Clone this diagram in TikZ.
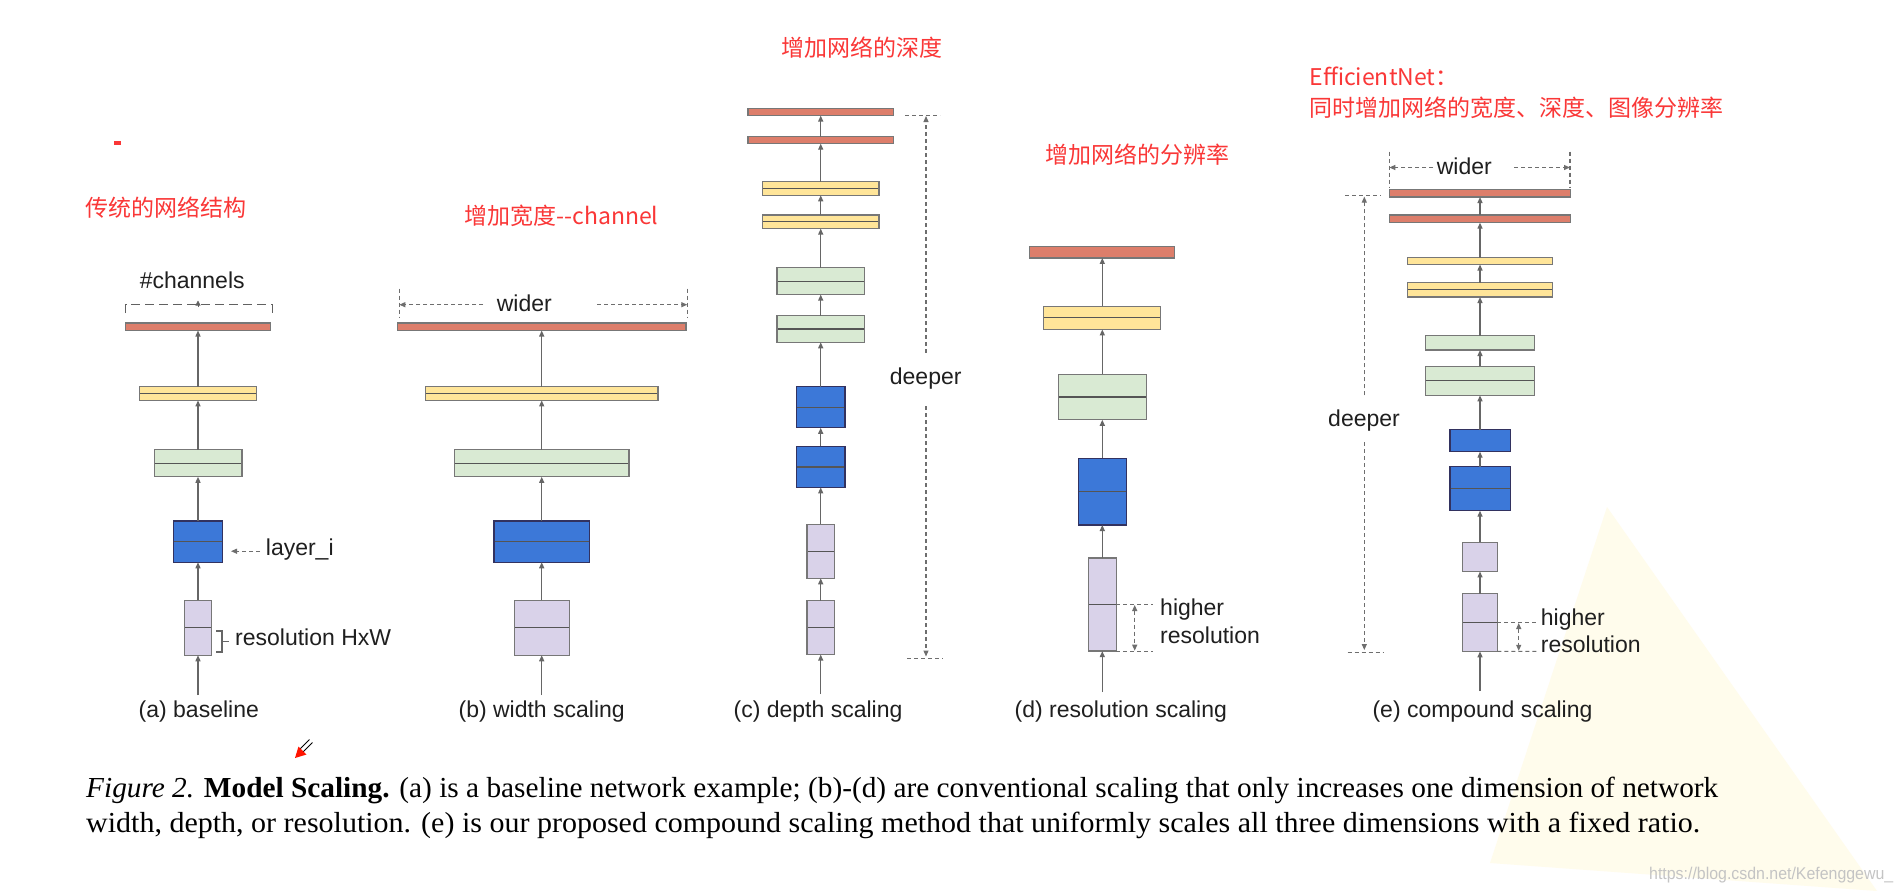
\documentclass[tikz,border=0pt]{standalone}
\usepackage{fontspec}
\usepackage{graphicx}
\setmainfont{Liberation Serif}
\newfontfamily\labfont{Liberation Sans}
\newfontfamily\cjkfont{Noto Sans CJK SC}
\usetikzlibrary{arrows.meta}
\definecolor{cred}{HTML}{DD7E6B}
\definecolor{cyel}{HTML}{FFE599}
\definecolor{cgrn}{HTML}{D9EAD3}
\definecolor{cblu}{HTML}{3C78D8}
\definecolor{cpur}{HTML}{D9D2E9}
\definecolor{bline}{HTML}{777777}
\definecolor{mline}{HTML}{555555}
\definecolor{aline}{HTML}{666666}
\definecolor{dline}{HTML}{6E6E6E}
\definecolor{redtxt}{RGB}{250,55,55}
\definecolor{wmgray}{HTML}{C4C4C4}
\definecolor{trifill}{RGB}{255,252,236}
\tikzset{
  box/.style={draw=bline, line width=1.3pt, inner sep=0pt, outer sep=0pt},
  rbox/.style={box, fill=cred},
  ybox/.style={box, fill=cyel},
  gbox/.style={box, fill=cgrn},
  bbox/.style={box, fill=cblu, draw=bline!70!blue!60!black},
  pbox/.style={box, fill=cpur},
  split/.style={path picture={\draw[mline, line width=1.3pt] (path picture bounding box.west) -- (path picture bounding box.east);}},
  conn/.style={draw=aline, line width=1.3pt, -{Triangle[length=6pt,width=5pt]}},
  dim/.style={draw=dline, line width=1.1pt, dash pattern=on 4pt off 3pt},
  dimtip/.style={dim, -{Triangle[length=6pt,width=5pt]}},
  dimboth/.style={dim, {Triangle[length=6pt,width=5pt]}-{Triangle[length=6pt,width=5pt]}},
  brk/.style={draw=black!62, line width=1.5pt, dash pattern=on 9pt off 5pt},
  lab/.style={font=\labfont\fontsize{23}{27}\selectfont, inner sep=0pt, text=black!88},
  cjk/.style={font=\cjkfont\fontsize{23}{27}\selectfont, inner sep=0pt, text=redtxt, anchor=west},
}
\begin{document}
\begin{tikzpicture}[x=1pt, y=-1pt]
\useasboundingbox (0,0) rectangle (1902,891);
\fill[white] (0,0) rectangle (1902,891);
% faint watermark triangle
\fill[trifill] (1607,507) -- (1490,863) -- (1877,891) -- cycle;

% ---------------- (a) baseline ----------------
\node[rbox, minimum width=145.3, minimum height=7.6] (ra) at (198,326.7) {};
\node[ybox, split, minimum width=116.7, minimum height=13.8] (ya) at (198,393.5) {};
\node[gbox, split, minimum width=87.7, minimum height=27.2] (ga) at (198,463.2) {};
\node[bbox, split, minimum width=48.7, minimum height=41.3] (ba) at (198,541.6) {};
\node[pbox, split, minimum width=27.3, minimum height=55.1] (pa) at (198,627.7) {};
\coordinate (a0) at (198,695);
\draw[conn] (a0) -- (pa.south);
\draw[conn] (pa.north) -- (ba.south);
\draw[conn] (ba.north) -- (ga.south);
\draw[conn] (ga.north) -- (ya.south);
\draw[conn] (ya.north) -- (ra.south);
\node[lab, anchor=base] (cha) at (192.2,288.5) {\#channels};
\coordinate (chLb) at (125.7,313); \coordinate (chL) at (125.7,304.7);
\coordinate (chR) at (272.3,304.7); \coordinate (chRb) at (272.3,313);
\draw[brk] (chLb) -- (chL) -- (chR) -- (chRb);
\coordinate (chT0) at (198,307); \coordinate (chT1) at (198,300.5);
\draw[draw=black!62, line width=0.8pt, -{Triangle[length=5pt,width=5pt]}] (chT0) -- (chT1);
\coordinate (lyA) at (260,551.2); \coordinate (lyB) at (231,551.2);
\draw[dimtip] (lyA) -- (lyB);
\node[lab, anchor=base west] (lyr) at (265.7,555) {layer\_i};
\draw[aline, line width=1.3pt] (216,631) -- (222,631) -- (222,652) -- (216,652);
\draw[aline, line width=1.3pt] (222,641.5) -- (228.5,641.5);
\node[lab, anchor=base west] (resa) at (235,645) {resolution HxW};
\node[lab, anchor=base] (capa) at (198.8,717) {(a) baseline};
\node[cjk] (cna) at (85,207.4) {传统的网络结构};
\fill[redtxt] (114,141) rectangle (121,145);

% ---------------- (b) width scaling ----------------
\node[rbox, minimum width=288.4, minimum height=7.6] (rb) at (541.7,326.7) {};
\node[ybox, split, minimum width=232.4, minimum height=13.8] (yb) at (541.7,393.5) {};
\node[gbox, split, minimum width=174.4, minimum height=27.2] (gb) at (541.7,463.2) {};
\node[bbox, split, minimum width=95.6, minimum height=41.3] (bb) at (541.7,541.6) {};
\node[pbox, split, minimum width=55, minimum height=55.1] (pb) at (541.7,627.7) {};
\coordinate (b0) at (541.7,695);
\draw[conn] (b0) -- (pb.south);
\draw[conn] (pb.north) -- (bb.south);
\draw[conn] (bb.north) -- (gb.south);
\draw[conn] (gb.north) -- (yb.south);
\draw[conn] (yb.north) -- (rb.south);
\draw[dim] (399.3,288.5) -- (399.3,317.7);
\draw[dim] (687.3,288.5) -- (687.3,317.7);
\coordinate (wbL0) at (483,304.7); \coordinate (wbL1) at (399.3,304.7);
\coordinate (wbR0) at (597,304.7); \coordinate (wbR1) at (687.3,304.7);
\draw[dimtip] (wbL0) -- (wbL1);
\draw[dimtip] (wbR0) -- (wbR1);
\node[lab, anchor=base] (wdb) at (524.3,311) {wider};
\node[lab, anchor=base] (capb) at (541.7,717) {(b) width scaling};
\node[cjk] (cnb) at (464.3,216.2) {增加宽度--channel};

% ---------------- (c) depth scaling ----------------
\node[rbox, minimum width=145.7, minimum height=7.1] (rc1) at (820.7,112) {};
\node[rbox, minimum width=145.7, minimum height=7.1] (rc2) at (820.7,140.1) {};
\node[ybox, split, minimum width=116.7, minimum height=13.6] (yc1) at (820.7,188.5) {};
\node[ybox, split, minimum width=116.7, minimum height=13.6] (yc2) at (820.7,221.8) {};
\node[gbox, split, minimum width=87.6, minimum height=26.8] (gc1) at (820.7,281.2) {};
\node[gbox, split, minimum width=87.6, minimum height=26.8] (gc2) at (820.7,328.9) {};
\node[bbox, split, minimum width=48.4, minimum height=41] (bc1) at (820.7,407.3) {};
\node[bbox, split, minimum width=48.4, minimum height=41] (bc2) at (820.7,466.9) {};
\node[pbox, split, minimum width=27.6, minimum height=54] (pc1) at (820.7,551.3) {};
\node[pbox, split, minimum width=27.6, minimum height=54] (pc2) at (820.7,627.6) {};
\coordinate (c0) at (820.7,694);
\draw[conn] (c0) -- (pc2.south);
\draw[conn] (pc2.north) -- (pc1.south);
\draw[conn] (pc1.north) -- (bc2.south);
\draw[conn] (bc2.north) -- (bc1.south);
\draw[conn] (bc1.north) -- (gc2.south);
\draw[conn] (gc2.north) -- (gc1.south);
\draw[conn] (gc1.north) -- (yc2.south);
\draw[conn] (yc2.north) -- (yc1.south);
\draw[conn] (yc1.north) -- (rc2.south);
\draw[conn] (rc2.north) -- (rc1.south);
\draw[dim] (905,115.1) -- (940,115.1);
\draw[dim] (907.3,658.4) -- (942.7,658.4);
\coordinate (dcU0) at (926,352.6); \coordinate (dcU1) at (926,116);
\coordinate (dcD0) at (926,406.2); \coordinate (dcD1) at (926,656.5);
\draw[dimtip] (dcU0) -- (dcU1);
\draw[dimtip] (dcD0) -- (dcD1);
\node[lab, anchor=base] (dpc) at (925.7,384) {deeper};
\node[lab, anchor=base] (capc) at (818,717) {(c) depth scaling};
\node[cjk] (cnc) at (781.7,47.7) {增加网络的深度};

% ---------------- (d) resolution scaling ----------------
\node[rbox, minimum width=145, minimum height=11.3] (rd) at (1102.3,252.3) {};
\node[ybox, split, minimum width=117, minimum height=23.3] (yd) at (1102.3,317.8) {};
\node[gbox, split, minimum width=87.7, minimum height=45.5] (gd) at (1102.3,397) {};
\node[bbox, split, minimum width=48, minimum height=66.6] (bd) at (1102.3,491.7) {};
\node[pbox, split, minimum width=27.7, minimum height=93] (pd) at (1102.3,604.6) {};
\coordinate (d0) at (1102.3,692);
\draw[conn] (d0) -- (pd.south);
\draw[conn] (pd.north) -- (bd.south);
\draw[conn] (bd.north) -- (gd.south);
\draw[conn] (gd.north) -- (yd.south);
\draw[conn] (yd.north) -- (rd.south);
\coordinate (hdT) at (1153.3,604.6); \coordinate (hdB) at (1153.3,651.1);
\draw[dim] (pd.east) -- (hdT);
\draw[dim] (pd.south east) -- (hdB);
\coordinate (hdA0) at (1134.7,605); \coordinate (hdA1) at (1134.7,650.7);
\draw[dimboth] (hdA0) -- (hdA1);
\node[lab, anchor=base west] (hgd) at (1160,615) {higher};
\node[lab, anchor=base west] (rsd) at (1160,643.5) {resolution};
\node[lab, anchor=base] (capd) at (1120.8,717) {(d) resolution scaling};
\node[cjk] (cnd) at (1045,154.5) {增加网络的分辨率};

% ---------------- (e) compound scaling ----------------
\node[rbox, minimum width=181.4, minimum height=7.7] (re1) at (1480,193.2) {};
\node[rbox, minimum width=181.4, minimum height=7.7] (re2) at (1480,218.8) {};
\node[ybox, minimum width=145.6, minimum height=6.8] (ye1) at (1480,261.1) {};
\node[ybox, split, minimum width=145.6, minimum height=14.5] (ye2) at (1480,289.8) {};
\node[gbox, minimum width=109, minimum height=14.5] (ge1) at (1480,342.8) {};
\node[gbox, split, minimum width=109, minimum height=29.1] (ge2) at (1480,380.8) {};
\node[bbox, minimum width=60.3, minimum height=22.2] (be1) at (1480,440.6) {};
\node[bbox, split, minimum width=60.3, minimum height=44] (be2) at (1480,488.7) {};
\node[pbox, minimum width=34.7, minimum height=29.1] (pe1) at (1480,556.9) {};
\node[pbox, split, minimum width=34.7, minimum height=57.7] (pe2) at (1480,622.5) {};
\coordinate (e0) at (1480,691);
\draw[conn] (e0) -- (pe2.south);
\draw[conn] (pe2.north) -- (pe1.south);
\draw[conn] (pe1.north) -- (be2.south);
\draw[conn] (be2.north) -- (be1.south);
\draw[conn] (be1.north) -- (ge2.south);
\draw[conn] (ge2.north) -- (ge1.south);
\draw[conn] (ge1.north) -- (ye2.south);
\draw[conn] (ye2.north) -- (ye1.south);
\draw[conn] (ye1.north) -- (re2.south);
\draw[conn] (re2.north) -- (re1.south);
% wider
\draw[dim] (1389.3,151.7) -- (1389.3,186.8);
\draw[dim] (1570,151.7) -- (1570,186.8);
\coordinate (weL0) at (1433,167.5); \coordinate (weL1) at (1389.3,167.5);
\coordinate (weR0) at (1514,167.5); \coordinate (weR1) at (1570,167.5);
\draw[dimtip] (weL0) -- (weL1);
\draw[dimtip] (weR0) -- (weR1);
\node[lab, anchor=base] (wde) at (1464.3,174) {wider};
% deeper
\draw[dim] (1345,195.7) -- (1380.7,195.7);
\draw[dim] (1347.7,652.1) -- (1383.3,652.1);
\coordinate (deU0) at (1364.3,395.3); \coordinate (deU1) at (1364.3,196.6);
\coordinate (deD0) at (1364.3,442.3); \coordinate (deD1) at (1364.3,650);
\draw[dimtip] (deU0) -- (deU1);
\draw[dimtip] (deD0) -- (deD1);
\node[lab, anchor=base] (dpe) at (1364,426) {deeper};
% higher resolution
\coordinate (heT) at (1536.7,622.5); \coordinate (heB) at (1536.7,651.3);
\draw[dim] (pe2.east) -- (heT);
\draw[dim] (pe2.south east) -- (heB);
\coordinate (heA0) at (1518.7,623); \coordinate (heA1) at (1518.7,650.8);
\draw[dimboth] (heA0) -- (heA1);
\node[lab, anchor=base west] (hge) at (1540.7,625) {higher};
\node[lab, anchor=base west] (rse) at (1540.7,652.6) {resolution};
\node[lab, anchor=base] (cape) at (1482.5,717) {(e) compound scaling};
\node[cjk] (cne1) at (1309.3,76.5) {EfficientNet：};
\node[cjk] (cne2) at (1309.3,107.7) {同时增加网络的宽度、深度、图像分辨率};

% ---------------- pencil cursor ----------------
\draw[black, line width=0.8pt] (299.5,749.5) -- (309.5,739.5);
\draw[black, line width=0.8pt] (302.5,752.5) -- (312.5,742.5);
\fill[red!85!orange] (295,758) -- (298.5,746.5) -- (306.5,754.5) -- cycle;

% ---------------- figure caption ----------------
\node[anchor=base west, inner sep=0pt, text=black] (cap1) at (86,797.5)
  {\resizebox{1632pt}{\height}{\fontsize{29}{35}\selectfont \textit{Figure 2.} \textbf{Model Scaling.} (a) is a baseline network example; (b)-(d) are conventional scaling that only increases one dimension of network}};
\node[anchor=base west, inner sep=0pt, text=black] (cap2) at (86,832.5)
  {\resizebox{1614pt}{\height}{\fontsize{29}{35}\selectfont width, depth, or resolution. (e) is our proposed compound scaling method that uniformly scales all three dimensions with a fixed ratio.}};
\node[anchor=base west, inner sep=0pt, text=wmgray] (wm) at (1649,879)
  {\resizebox{244pt}{\height}{\labfont\fontsize{17}{20}\selectfont https://blog.csdn.net/Kefenggewu\_}};
\end{tikzpicture}
\end{document}
